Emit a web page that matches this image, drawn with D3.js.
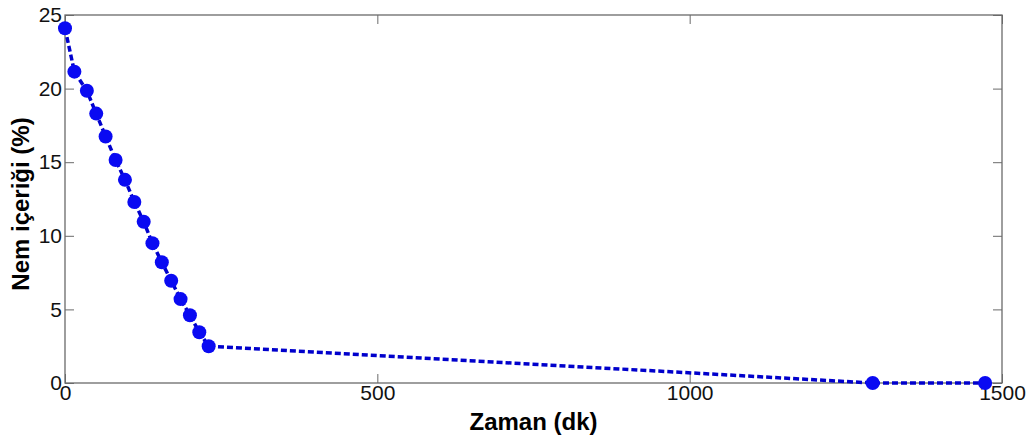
<!DOCTYPE html>
<html>
<head>
<meta charset="utf-8">
<script src="https://cdn.jsdelivr.net/npm/d3@7"></script>
<style>
body{margin:0;background:#fff;}
svg{display:block;}
</style>
</head>
<body>
<svg id="c" width="1031" height="442"></svg>
<script>
const timeMin = [0, 15, 35, 50, 65, 81, 96, 111, 126, 140, 155, 170, 185, 200, 215, 230, 1293, 1473];
const moisture = [24.1, 21.15, 19.85, 18.3, 16.75, 15.15, 13.8, 12.3, 10.95, 9.5, 8.2, 6.95, 5.7, 4.6, 3.45, 2.5, 0, 0];
const xTicks = [0, 500, 1000, 1500];
const yTicks = [0, 5, 10, 15, 20, 25];
const xTitle = "Zaman (dk)";
const yTitle = "Nem içeriği (%)";

const svg = d3.select("#c");
const L = 65, R = 1002, T = 15, B = 383;
const x = d3.scaleLinear().domain([0, 1500]).range([L, R]);
const y = d3.scaleLinear().domain([0, 25]).range([B, T]);
const font = "Arial, 'Liberation Sans', sans-serif";
const frame = "#6a6a6a";

// frame
svg.append("rect").attr("x", L).attr("y", T).attr("width", R - L).attr("height", B - T)
  .attr("fill", "none").attr("stroke", frame).attr("stroke-width", 1.3);

function styleAxis(g, labels) {
  g.select(".domain").remove();
  g.selectAll(".tick line").attr("stroke", frame).attr("stroke-width", 1);
  g.selectAll(".tick text").attr("fill", "#111").style("font-family", font).style("font-size", "21px");
  if (!labels) g.selectAll(".tick text").remove();
}

svg.append("g").attr("transform", `translate(0,${B})`)
  .call(d3.axisBottom(x).tickValues(xTicks).tickSize(-9).tickSizeOuter(0).tickPadding(2).tickFormat(d3.format("d")))
  .call(g => styleAxis(g, true));
svg.append("g").attr("transform", `translate(0,${T})`)
  .call(d3.axisTop(x).tickValues(xTicks).tickSize(-9).tickSizeOuter(0))
  .call(g => styleAxis(g, false));
svg.append("g").attr("transform", `translate(${L},0)`)
  .call(d3.axisLeft(y).tickValues(yTicks).tickSize(-9).tickSizeOuter(0).tickPadding(3).tickFormat(d3.format("d")))
  .call(g => styleAxis(g, true));
svg.append("g").attr("transform", `translate(${R},0)`)
  .call(d3.axisRight(y).tickValues(yTicks).tickSize(-9).tickSizeOuter(0))
  .call(g => styleAxis(g, false));

const data = timeMin.map((t, i) => ({t, m: moisture[i]}));

svg.append("path").datum(data)
  .attr("d", d3.line().x(d => x(d.t)).y(d => y(d.m)))
  .attr("fill", "none").attr("stroke", "#0000cc").attr("stroke-width", 3.5)
  .attr("stroke-dasharray", "6,3");

svg.selectAll("circle.pt").data(data).join("circle")
  .attr("class", "pt")
  .attr("cx", d => x(d.t)).attr("cy", d => y(d.m)).attr("r", 7)
  .attr("fill", "#0a0af2");

svg.append("text").attr("x", (L + R) / 2).attr("y", 430)
  .attr("text-anchor", "middle").style("font-family", font).style("font-weight", "bold")
  .style("font-size", "24px").attr("fill", "#000").text(xTitle);

svg.append("text").attr("transform", `translate(29,${(T + B) / 2 + 5}) rotate(-90)`)
  .attr("text-anchor", "middle").style("font-family", font).style("font-weight", "bold")
  .style("font-size", "24px").attr("fill", "#000").text(yTitle);
</script>
</body>
</html>
